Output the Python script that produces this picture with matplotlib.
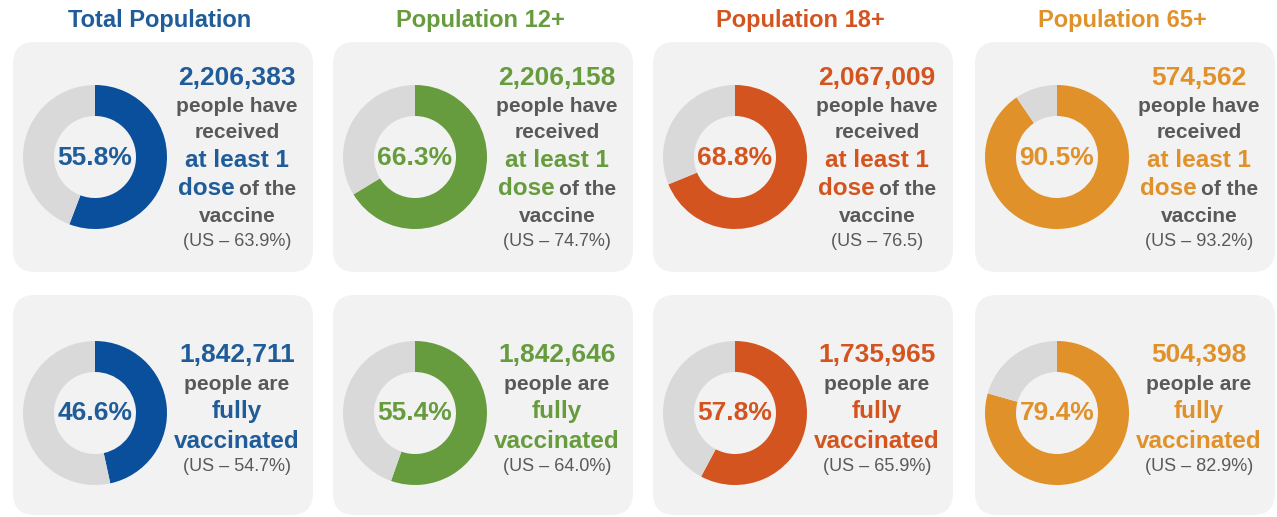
import matplotlib
matplotlib.use('Agg')
import matplotlib.pyplot as plt
from matplotlib.patches import FancyBboxPatch, Wedge

plt.rcParams['font.family'] = ['Liberation Sans', 'DejaVu Sans']

groups = ['Total Population', 'Population 12+', 'Population 18+', 'Population 65+']
dose1_pct = [55.8, 66.3, 68.8, 90.5]
full_pct = [46.6, 55.4, 57.8, 79.4]
dose1_count = ['2,206,383', '2,206,158', '2,067,009', '574,562']
full_count = ['1,842,711', '1,842,646', '1,735,965', '504,398']
us_dose1 = ['63.9%', '74.7%', '76.5', '93.2%']
us_full = ['54.7%', '64.0%', '65.9%', '82.9%']

ring_colors = ['#0A4F9C', '#669C3D', '#D4541F', '#E0912A']
text_colors = ['#1F5C99', '#669C3D', '#D4541F', '#E0912A']
GRAY_RING = '#D9D9D9'
BOX = '#F2F2F2'
DARK = '#595959'

W, H = 1277, 517
fig = plt.figure(figsize=(W / 100, H / 100), dpi=100)
ax = fig.add_axes([0, 0, 1, 1])
ax.set_xlim(0, W)
ax.set_ylim(0, H)
ax.axis('off')
renderer = fig.canvas.get_renderer()


def Y(py):
    # image pixel row -> data y
    return H - py


def seg_line(cx, py, parts):
    # parts: list of (text, color, size); drawn centered at cx on baseline py
    texts = []
    widths = []
    for s, c, sz in parts:
        t = ax.text(0, Y(py), s, color=c, fontsize=sz, fontweight='bold',
                    ha='left', va='baseline')
        bb = t.get_window_extent(renderer)
        texts.append(t)
        widths.append(bb.width)
    gap = 5
    total = sum(widths) + gap * (len(parts) - 1)
    x = cx - total / 2
    for t, w in zip(texts, widths):
        t.set_x(x)
        x += w + gap


def donut(cx, cy, pct, color):
    r, w = 72, 31
    ang = 360 * pct / 100
    ax.add_patch(Wedge((cx, Y(cy)), r, 90 - ang, 90, width=w, facecolor=color, edgecolor='none'))
    ax.add_patch(Wedge((cx, Y(cy)), r, 90, 450 - ang, width=w, facecolor=GRAY_RING, edgecolor='none'))


x0s = [13, 333, 653, 975]
for i, g in enumerate(groups):
    x0 = x0s[i]
    col = text_colors[i]
    ax.text(x0 + 147, Y(27), g, color=col, fontsize=17, fontweight='bold',
            ha='center', va='baseline')

    # boxes
    for top, hgt in [(42, 230), (295, 220)]:
        ax.add_patch(FancyBboxPatch((x0 + 22, Y(top + hgt) + 22), 300 - 44, hgt - 44,
                                    boxstyle='round,pad=22', facecolor=BOX, edgecolor='none'))

    # donuts
    donut(x0 + 82, 157, dose1_pct[i], ring_colors[i])
    ax.text(x0 + 82, Y(165), f'{dose1_pct[i]:.1f}%', color=col, fontsize=19,
            fontweight='bold', ha='center', va='baseline')
    donut(x0 + 82, 413, full_pct[i], ring_colors[i])
    ax.text(x0 + 82, Y(420), f'{full_pct[i]:.1f}%', color=col, fontsize=19,
            fontweight='bold', ha='center', va='baseline')

    tx = x0 + 224
    # top text block
    seg_line(tx, 85, [(dose1_count[i], col, 19)])
    seg_line(tx, 112, [('people have', DARK, 15)])
    seg_line(tx, 138, [('received', DARK, 15)])
    seg_line(tx, 167, [('at least 1', col, 17.5)])
    seg_line(tx, 195, [('dose', col, 17.5), ('of the', DARK, 15)])
    seg_line(tx, 222, [('vaccine', DARK, 15)])
    ax.text(tx, Y(246), f'(US \u2013 {us_dose1[i]})', color=DARK, fontsize=13,
            ha='center', va='baseline')

    # bottom text block
    seg_line(tx, 362, [(full_count[i], col, 19)])
    seg_line(tx, 390, [('people are', DARK, 15)])
    seg_line(tx, 418, [('fully', col, 17.5)])
    seg_line(tx, 448, [('vaccinated', col, 17.5)])
    ax.text(tx, Y(471), f'(US \u2013 {us_full[i]})', color=DARK, fontsize=13,
            ha='center', va='baseline')

fig.savefig('out.png', dpi=100)
